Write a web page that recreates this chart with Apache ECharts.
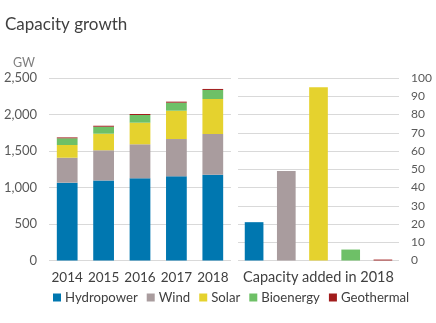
<!DOCTYPE html>
<html><head><meta charset="utf-8">
<script src="https://cdn.jsdelivr.net/npm/echarts@6/dist/echarts.min.js"></script>
<style>html,body{margin:0;padding:0;background:#fff}#c{width:436px;height:323px}</style>
</head><body><div id="c"></div>
<script>
const years = ['2014','2015','2016','2017','2018'];
const techs = ['Hydropower','Wind','Solar','Bioenergy','Geothermal'];
const colors = ['#0077B0','#A99C9E','#E5D22E','#6EC067','#A11C1C'];
const hydro = [1066, 1096, 1126, 1153, 1175];
const wind = [342, 414, 466, 511, 558];
const solar = [174, 227, 296, 388, 479];
const bio = [92, 96, 105, 110, 124];
const geo = [12, 13, 14, 14, 14];
const added2018 = [21, 49, 95, 6, 0.5];
const leftTicks = [0, 500, 1000, 1500, 2000, 2500];
const rightTicks = [0, 10, 20, 30, 40, 50, 60, 70, 80, 90, 100];

const font = 'Lato, "Noto Sans", sans-serif';
const leftData = [hydro, wind, solar, bio, geo];
const series = [];
techs.forEach((t, i) => {
  series.push({name: t, type: 'bar', stack: 'L', xAxisIndex: 0, yAxisIndex: 0,
    barWidth: '57%', itemStyle: {color: colors[i]}, data: leftData[i]});
});
techs.forEach((t, i) => {
  series.push({name: t, type: 'bar', stack: 'R', xAxisIndex: 1, yAxisIndex: 1,
    barWidth: '58%', itemStyle: {color: colors[i]},
    data: techs.map((_, j) => j === i ? added2018[i] : '-')});
});
const chart = echarts.init(document.getElementById('c'));
chart.setOption({
  animation: false,
  title: [{text: 'Capacity growth', left: 0, top: 11,
    textStyle: {fontFamily: font, fontSize: 17, fontWeight: 'normal', color: '#404040'}},
    {text: 'GW', left: 8, top: 51, textStyle: {fontFamily: font, fontSize: 12.5, fontWeight: 'normal', color: '#7f7f7f'}}],
  legend: {data: techs, top: 291, left: 53, width: 420, padding: 0, itemWidth: 8, itemHeight: 8, itemGap: 9,
    icon: 'rect', textStyle: {fontFamily: font, fontSize: 13.2, color: '#404040', padding: [0,0,0,-1]}},
  grid: [{left: 49, top: 78, width: 182, height: 182.5},
         {left: 238, top: 78, width: 161, height: 182.5}],
  xAxis: [
    {type: 'category', gridIndex: 0, data: years, axisLine: {show: false}, axisTick: {show: false},
      axisLabel: {interval: 0, fontFamily: font, fontSize: 13.5, color: '#404040', margin: 10}},
    {type: 'category', gridIndex: 1, data: techs, axisLine: {show: false}, axisTick: {show: false},
      axisLabel: {show: false}, name: 'Capacity added in 2018', nameLocation: 'middle', nameGap: 17,
      nameTextStyle: {fontFamily: font, fontSize: 14.5, color: '#404040', verticalAlign: 'middle'}}
  ],
  yAxis: [
    {type: 'value', gridIndex: 0, min: 0, max: 2500, interval: 500,
      axisLabel: {fontFamily: font, fontSize: 13, color: '#595959', margin: 12,
        formatter: v => v.toLocaleString('en-US')},
      splitLine: {lineStyle: {color: '#d9d9d9'}}},
    {type: 'value', gridIndex: 1, position: 'right', min: 0, max: 100, interval: 10,
      axisLabel: {fontFamily: font, fontSize: 12, color: '#595959', margin: 12},
      splitLine: {lineStyle: {color: '#d9d9d9'}}}
  ],
  series: series
});
</script></body></html>
